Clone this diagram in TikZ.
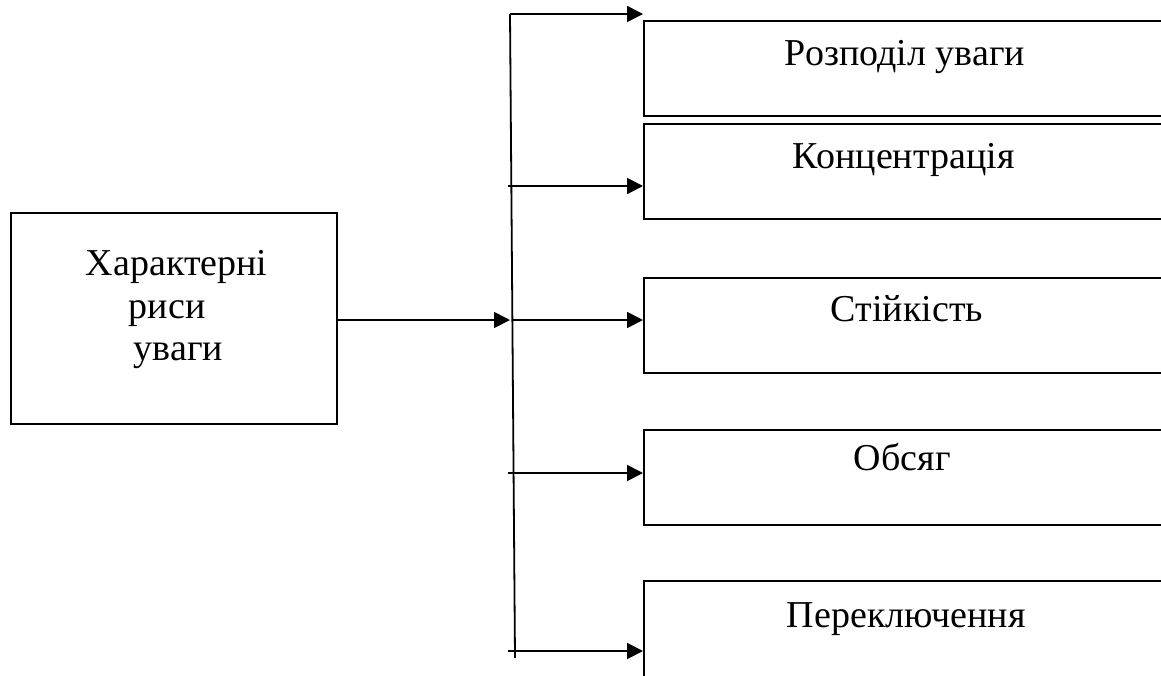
\documentclass[tikz,border=0pt]{standalone}
\usepackage{fontspec}
\setmainfont{Liberation Serif}
\usetikzlibrary{arrows.meta}
\begin{document}
\begin{tikzpicture}[x=1pt,y=-1pt,line width=1.8pt,
  box/.style={draw,rectangle,anchor=north west,inner sep=0pt},
  rbox/.style={box,minimum width=600pt,minimum height=95pt},
  arr/.style={-{Triangle[length=16pt,width=16pt]}},
  big/.style={font=\fontsize{38}{46}\selectfont,anchor=base west,inner sep=0pt},
  small/.style={font=\fontsize{38}{46}\selectfont,anchor=base west,inner sep=0pt}]
\useasboundingbox (0,0) rectangle (1161,675);
\clip (0,0) rectangle (1161,675);
% left box
\node[box,minimum width=326pt,minimum height=211pt] (main) at (10,212) {};
\node[small] (m1) at (85,275) {Характерні};
\node[small] (m2) at (128,318) {риси};
\node[small] (m3) at (133,360) {уваги};
% right boxes
\node[rbox] (b1) at (643,20) {};
\node[rbox] (b2) at (643,123) {};
\node[rbox] (b3) at (643,277) {};
\node[rbox] (b4) at (643,429) {};
\node[rbox,minimum height=150pt] (b5) at (643,580) {};
\node[big] (t1) at (784,65) {Розподіл уваги};
\node[big] (t2) at (792,168) {Концентрація};
\node[big] (t3) at (830,321) {Стійкість};
\node[big] (t4) at (853,470) {Обсяг};
\node[big] (t5) at (786,627) {Переключення};
% trunk
\coordinate (vt) at (510,14);
\coordinate (vb) at (515,658);
\coordinate (tip1) at (643,14);
\draw (vb) -- (vt);
\draw[arr] (vt) -- (tip1);
\coordinate (s2) at (508,186);
\coordinate (s3) at (512,320);
\coordinate (j) at (510,320);
\coordinate (s4) at (508,473);
\coordinate (s5) at (508,651);
\draw[arr] (main.east |- j) -- (j);
\draw[arr] (s2) -- (b2.west |- s2);
\draw[arr] (s3) -- (b3.west |- s3);
\draw[arr] (s4) -- (b4.west |- s4);
\draw[arr] (s5) -- (b5.west |- s5);
\end{tikzpicture}
\end{document}
